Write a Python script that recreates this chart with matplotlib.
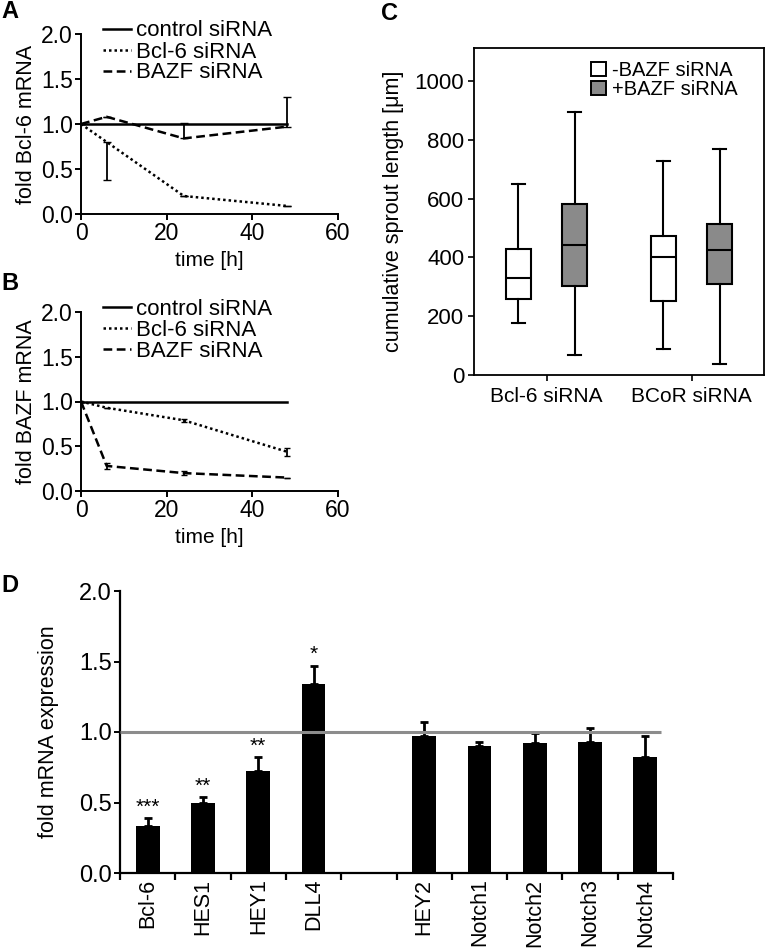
import matplotlib

matplotlib.use("Agg")
import matplotlib.pyplot as plt
from matplotlib import font_manager

plt.rcParams["font.family"] = ["Liberation Sans", "DejaVu Sans"]

# ---- data -------------------------------------------------------------
time_h = [0, 6, 24, 48]

# panel A: fold Bcl-6 mRNA
a_control = [1.0, 1.0, 1.0, 1.0]
a_bcl6 = [1.0, 0.80, 0.20, 0.09]
a_bazf = [1.0, 1.08, 0.84, 0.97]
a_bcl6_err_lo = [0.0, 0.42, 0.0, 0.0]
a_bazf_err_hi = [0.0, 0.0, 0.17, 0.33]

# panel B: fold BAZF mRNA
b_control = [1.0, 1.0, 1.0, 1.0]
b_bcl6 = [1.0, 0.93, 0.79, 0.44]
b_bazf = [1.0, 0.28, 0.20, 0.15]
b_bcl6_err = [0.0, 0.0, 0.02, 0.045]
b_bazf_err = [0.0, 0.03, 0.02, 0.0]

# panel C: cumulative sprout length (box stats)
c_groups = ["Bcl-6 siRNA", "BCoR siRNA"]
c_minus = [  # whislo, q1, med, q3, whishi
    [177, 259, 330, 427, 649],
    [88, 250, 401, 473, 729],
]
c_plus = [
    [68, 304, 442, 582, 894],
    [37, 310, 424, 514, 768],
]

# panel D: fold mRNA expression
d_genes = ["Bcl-6", "HES1", "HEY1", "DLL4", "", "HEY2",
           "Notch1", "Notch2", "Notch3", "Notch4"]
d_values = [0.33, 0.50, 0.72, 1.34, None, 0.97, 0.90, 0.92, 0.93, 0.82]
d_err = [0.06, 0.04, 0.10, 0.13, None, 0.10, 0.03, 0.07, 0.10, 0.15]
d_stars = ["***", "**", "**", "*", "", "", "", "", "", ""]

# narrow face for panel D ticks, if it is there
names = {f.name for f in font_manager.fontManager.ttflist}
narrow = "Liberation Sans Narrow" if "Liberation Sans Narrow" in names else "Liberation Sans"

W, H = 776, 950
fig = plt.figure(figsize=(W / 100, H / 100), dpi=100)


def px_axes(left, right, top, bottom):
    return fig.add_axes([left / W, 1 - bottom / H, (right - left) / W, (bottom - top) / H])


def style_open(ax, size):
    for s in ("top", "right"):
        ax.spines[s].set_visible(False)
    for s in ("left", "bottom"):
        ax.spines[s].set_linewidth(1.4)
    ax.tick_params(direction="out", length=4, width=1.4, labelsize=size, pad=2)


def time_panel(ax, ylabel, control, bcl6, bazf):
    ax.plot(time_h, control, "k-", lw=1.8, label="control siRNA")
    ax.plot(time_h, bcl6, "k", ls=(0, (1, 1.2)), lw=1.8, label="Bcl-6 siRNA")
    ax.plot(time_h, bazf, "k", ls=(0, (3.5, 1.8)), lw=1.8, label="BAZF siRNA")
    ax.set_xlim(0, 60)
    ax.set_ylim(0, 2)
    ax.set_xticks([0, 20, 40, 60])
    ax.set_yticks([0, 0.5, 1.0, 1.5, 2.0])
    ax.set_yticklabels(["0.0", "0.5", "1.0", "1.5", "2.0"])
    ax.set_xlabel("time [h]", fontsize=15, labelpad=4)
    ax.set_ylabel(ylabel, fontsize=15.5, labelpad=3)
    style_open(ax, 16.5)
    ax.legend(loc="upper left", bbox_to_anchor=(0.086, 1.075), frameon=False,
              fontsize=16, handlelength=1.25, handletextpad=0.25,
              labelspacing=0.0, borderpad=0, borderaxespad=0)


# ---- A ----
axA = px_axes(81, 338, 34, 214)
time_panel(axA, "fold Bcl-6 mRNA", a_control, a_bcl6, a_bazf)
axA.errorbar(time_h, a_bcl6, yerr=[a_bcl6_err_lo, [0] * 4], fmt="none",
             ecolor="k", elinewidth=1.3, capsize=3)
axA.errorbar(time_h, a_bazf, yerr=[[0] * 4, a_bazf_err_hi], fmt="none",
             ecolor="k", elinewidth=1.3, capsize=3)

# ---- B ----
axB = px_axes(81, 338, 312, 491)
time_panel(axB, "fold BAZF mRNA", b_control, b_bcl6, b_bazf)
axB.errorbar(time_h, b_bcl6, yerr=b_bcl6_err, fmt="none", ecolor="k",
             elinewidth=1.3, capsize=2.5)
axB.errorbar(time_h, b_bazf, yerr=b_bazf_err, fmt="none", ecolor="k",
             elinewidth=1.3, capsize=2.5)

# ---- C ----
axC = px_axes(474, 764, 48, 375)


def stats(rows):
    return [dict(whislo=r[0], q1=r[1], med=r[2], q3=r[3], whishi=r[4]) for r in rows]


pos = [0.5, 1.5]
lw = 1.5
for rows, off, col in ((c_minus, -0.195, "white"), (c_plus, 0.195, "#8a8a8a")):
    axC.bxp(stats(rows), positions=[p + off for p in pos], widths=0.175,
            showfliers=False, patch_artist=True,
            boxprops=dict(facecolor=col, edgecolor="k", lw=lw),
            whiskerprops=dict(color="k", lw=lw), capprops=dict(color="k", lw=lw),
            medianprops=dict(color="k", lw=lw), capwidths=0.09)
axC.set_xlim(0, 2)
axC.set_ylim(0, 1112)
axC.set_xticks(pos)
axC.set_xticklabels(c_groups, fontsize=15)
axC.set_yticks(range(0, 1001, 200))
axC.tick_params(axis="y", labelsize=16, length=4, width=1.2, pad=3)
axC.tick_params(axis="x", length=4, width=1.2, pad=5)
for s in axC.spines.values():
    s.set_linewidth(1.3)
axC.set_ylabel("cumulative sprout length [\u03bcm]", fontsize=15.5, labelpad=8)
hC = [plt.Rectangle((0, 0), 1, 1, fc="white", ec="k", lw=1.4),
      plt.Rectangle((0, 0), 1, 1, fc="#8a8a8a", ec="k", lw=1.4)]
axC.legend(hC, ["-BAZF siRNA", "+BAZF siRNA"], loc="upper left",
           bbox_to_anchor=(0.405, 0.96), frameon=False, fontsize=14.5,
           handlelength=0.7, handleheight=0.75, handletextpad=0.3,
           labelspacing=0.0, borderpad=0, borderaxespad=0)

# ---- D ----
axD = px_axes(120, 673, 591, 873)
xs = [i + 0.5 for i, v in enumerate(d_values) if v is not None]
vals = [v for v in d_values if v is not None]
errs = [e for e in d_err if e is not None]
axD.bar(xs, vals, width=0.43, color="k", zorder=2)
axD.errorbar(xs, vals, yerr=[[0] * len(errs), errs], fmt="none", ecolor="k",
             elinewidth=2, capsize=3, capthick=2, zorder=2)
axD.hlines(1.0, 0, 9.78, color="#8c8c8c", lw=2.2, zorder=3)
for i, (v, e, s) in enumerate(zip(d_values, d_err, d_stars)):
    if s:
        axD.text(i + 0.5, v + e + 0.01, s, ha="center", va="bottom", fontsize=15)
axD.set_xlim(0, 10)
axD.set_ylim(0, 2)
axD.set_xticks(range(0, 11))
axD.set_xticklabels([])
axD.set_xticks([i + 0.5 for i in range(10)], minor=True)
axD.set_xticklabels(d_genes, minor=True, rotation=90, fontsize=15.5, family=narrow)
axD.tick_params(axis="x", which="minor", length=0, pad=4)
axD.set_yticks([0, 0.5, 1.0, 1.5, 2.0])
axD.set_yticklabels(["0.0", "0.5", "1.0", "1.5", "2.0"], family=narrow)
style_open(axD, 17)
axD.tick_params(axis="x", which="major", length=5, width=1.6)
axD.spines["left"].set_linewidth(1.6)
axD.spines["bottom"].set_linewidth(1.6)
axD.set_ylabel("fold mRNA expression", fontsize=15.5, labelpad=14)

# panel letters
for letter, x, y in (("A", 10, 12), ("B", 10, 283), ("C", 390, 13), ("D", 10, 585)):
    fig.text(x / W, 1 - y / H, letter, fontsize=17, fontweight="bold",
             ha="center", va="center")

fig.savefig("out.png", dpi=100)
